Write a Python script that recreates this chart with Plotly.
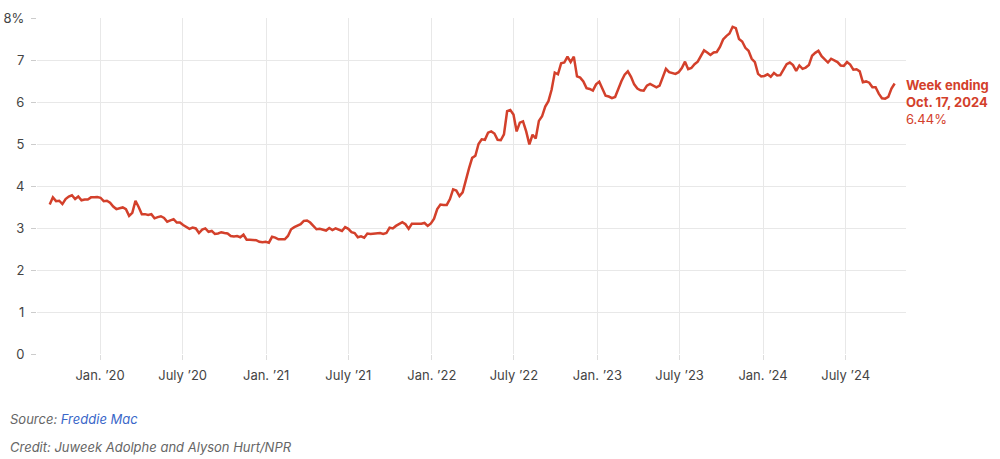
import pandas as pd
import plotly.graph_objects as go

# Weekly 30-year fixed mortgage rate (%), Freddie Mac PMMS, Thursdays from 2019-09-12
rates_2019 = [3.56, 3.73, 3.64, 3.65, 3.57, 3.69, 3.75, 3.78, 3.69, 3.75, 3.66, 3.68, 3.68, 3.73, 3.73, 3.74]
rates_2020 = [3.72, 3.64, 3.65, 3.60, 3.51, 3.45, 3.47, 3.49, 3.45, 3.29, 3.36, 3.65, 3.50,
              3.33, 3.33, 3.31, 3.33, 3.23, 3.26, 3.28, 3.24, 3.15, 3.18, 3.21, 3.13, 3.13,
              3.07, 3.03, 2.98, 3.01, 2.99, 2.88, 2.96, 2.99, 2.91, 2.93, 2.86, 2.87, 2.90,
              2.88, 2.87, 2.81, 2.80, 2.81, 2.78, 2.84, 2.72, 2.72, 2.71, 2.71, 2.67, 2.66, 2.67]
rates_2021 = [2.65, 2.79, 2.77, 2.73, 2.73, 2.73, 2.81, 2.97, 3.02, 3.05, 3.09, 3.17,
              3.18, 3.13, 3.04, 2.97, 2.98, 2.96, 2.94, 3.00, 2.95, 2.99, 2.96, 2.93, 3.02,
              2.98, 2.90, 2.88, 2.78, 2.80, 2.77, 2.87, 2.86, 2.87, 2.87, 2.88, 2.86, 2.88, 3.01,
              2.99, 3.05, 3.09, 3.14, 3.09, 2.98, 3.10, 3.10, 3.11, 3.10, 3.12, 3.05, 3.11]
rates_2022 = [3.22, 3.45, 3.56, 3.55, 3.55, 3.69, 3.92, 3.89, 3.76, 3.85, 4.16, 4.42, 4.67,
              4.72, 5.00, 5.11, 5.10, 5.27, 5.30, 5.25, 5.10, 5.09, 5.23, 5.78, 5.81, 5.70,
              5.30, 5.51, 5.54, 5.30, 4.99, 5.22, 5.13, 5.55, 5.66, 5.89, 6.02, 6.29, 6.70,
              6.66, 6.92, 6.94, 7.08, 6.95, 7.08, 6.61, 6.58, 6.49, 6.33, 6.31, 6.27, 6.42]
rates_2023 = [6.48, 6.33, 6.15, 6.13, 6.09, 6.12, 6.32, 6.50, 6.65, 6.73, 6.60, 6.42, 6.32,
              6.28, 6.27, 6.39, 6.43, 6.39, 6.35, 6.39, 6.57, 6.79, 6.71, 6.69, 6.67, 6.71,
              6.81, 6.96, 6.78, 6.81, 6.90, 6.96, 7.09, 7.23, 7.18, 7.12, 7.18, 7.19, 7.31,
              7.49, 7.57, 7.63, 7.79, 7.76, 7.50, 7.44, 7.29, 7.22, 7.03, 6.95, 6.67, 6.61]
rates_2024 = [6.62, 6.66, 6.60, 6.69, 6.63, 6.64, 6.77, 6.90, 6.94, 6.88, 6.74, 6.87, 6.79,
              6.82, 6.88, 7.10, 7.17, 7.22, 7.09, 7.02, 6.94, 7.03, 6.99, 6.95, 6.87, 6.86,
              6.95, 6.89, 6.77, 6.78, 6.73, 6.47, 6.49, 6.46, 6.35, 6.35, 6.20, 6.09, 6.08,
              6.12, 6.32, 6.44]

rates = rates_2019 + rates_2020 + rates_2021 + rates_2022 + rates_2023 + rates_2024
dates = pd.date_range("2019-09-12", "2024-10-17", freq="W-THU")
assert len(dates) == len(rates), (len(dates), len(rates))

tick_dates = ["2020-01-01", "2020-07-01", "2021-01-01", "2021-07-01", "2022-01-01",
              "2022-07-01", "2023-01-01", "2023-07-01", "2024-01-01", "2024-07-01"]
tick_labels = ["Jan. \u201920", "July \u201920", "Jan. \u201921", "July \u201921", "Jan. \u201922",
               "July \u201922", "Jan. \u201923", "July \u201923", "Jan. \u201924", "July \u201924"]
y_ticks = [0, 1, 2, 3, 4, 5, 6, 7, 8]
y_labels = ["0", "1", "2", "3", "4", "5", "6", "7", "8%"]

RED = "#d3402b"
FONT = "Inter, 'Noto Sans', sans-serif"

fig = go.Figure()
fig.add_trace(go.Scatter(x=dates, y=rates, mode="lines",
                         line=dict(color=RED, width=2.5), hoverinfo="skip"))

fig.add_annotation(x=dates[-1], y=rates[-1], xref="x", yref="y",
                   text="<b>Week ending</b><br><b>Oct. 17, 2024</b><br>6.44%",
                   showarrow=False, xanchor="left", yanchor="top", align="left",
                   xshift=9, yshift=9, font=dict(family=FONT, size=13, color=RED))

fig.add_annotation(x=-0.0334, y=-0.1935, xref="paper", yref="paper",
                   text="<i>Source: <span style='color:#3a67c9'>Freddie Mac</span></i>",
                   showarrow=False, xanchor="left", yanchor="middle",
                   font=dict(family=FONT, size=13, color="#666666"))
fig.add_annotation(x=-0.0334, y=-0.2768, xref="paper", yref="paper",
                   text="<i>Credit: Juweek Adolphe and Alyson Hurt/NPR</i>",
                   showarrow=False, xanchor="left", yanchor="middle",
                   font=dict(family=FONT, size=13, color="#666666"))

fig.update_layout(
    template="none",
    width=1000, height=459,
    margin=dict(l=37, r=94, t=18, b=105, autoexpand=False),
    paper_bgcolor="white", plot_bgcolor="white",
    showlegend=False,
    font=dict(family=FONT, size=13, color="#555555"),
)
fig.update_xaxes(
    type="date", range=["2019-08-15", "2024-11-11"],
    tickvals=tick_dates, ticktext=tick_labels,
    showgrid=True, gridcolor="#e8e8e8", gridwidth=1,
    ticks="outside", ticklen=5, tickcolor="#dddddd",
    showline=False, zeroline=False, automargin=False,
    tickfont=dict(family=FONT, size=13, color="#444444"),
    ticklabelstandoff=4,
)
fig.update_yaxes(
    range=[0, 8], tickvals=y_ticks, ticktext=y_labels,
    showgrid=True, gridcolor="#e8e8e8", gridwidth=1,
    ticks="outside", ticklen=5, tickcolor="#cccccc",
    showline=False, zeroline=False, automargin=False,
    tickfont=dict(family=FONT, size=13, color="#444444"),
    ticklabelstandoff=4,
)

fig.write_html("out.html",
               config={"displayModeBar": False, "staticPlot": True},
               post_script="document.body.style.margin='0';document.body.style.overflow='hidden';")
